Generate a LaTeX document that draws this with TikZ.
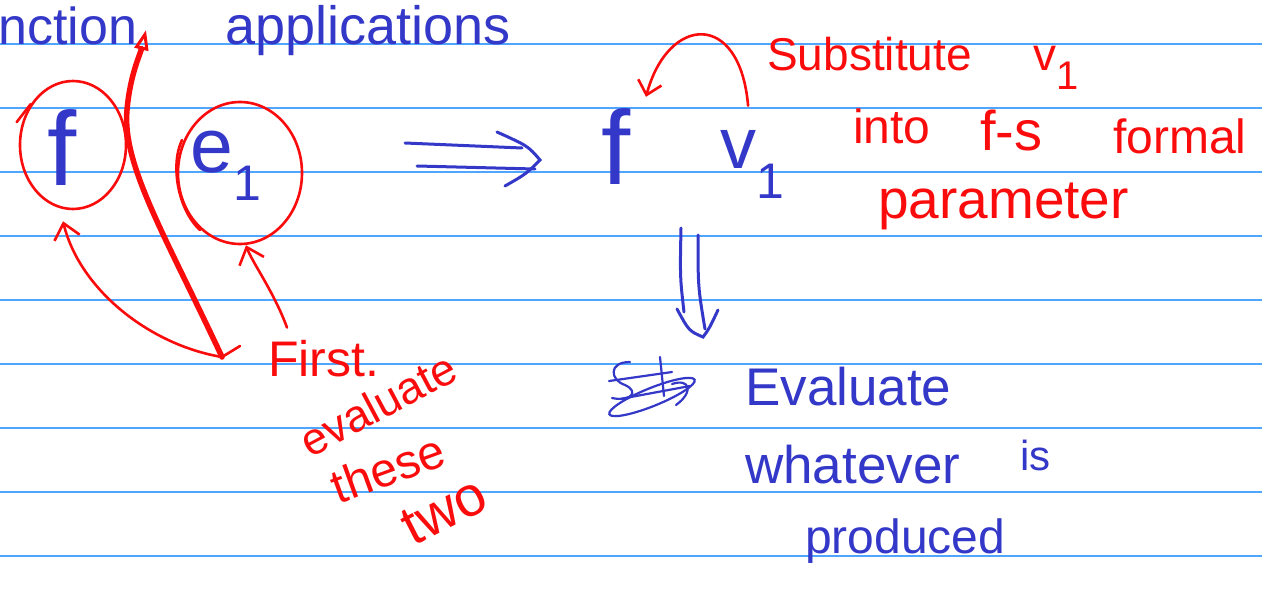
\documentclass[tikz,border=0pt]{standalone}
\usepackage{fontspec}
\setmainfont{Liberation Sans}
\usepackage{tikz}
\usetikzlibrary{positioning, arrows.meta, shapes.geometric}

\definecolor{penblue}{RGB}{52,56,200}
\definecolor{penred}{RGB}{250,12,12}
\definecolor{ruleblue}{RGB}{80,165,255}

\begin{document}
\begin{tikzpicture}[
    x=1pt, y=-1pt,
    node distance=10pt,
    rule/.style={ruleblue, line width=1.5pt},
    bluetext/.style={text=penblue, inner sep=0pt, font=\fontsize{52}{52}\selectfont},
    redtext/.style={text=penred, inner sep=0pt, font=\fontsize{48}{48}\selectfont},
    ring/.style={ellipse, draw=penred, line width=2.6pt, inner sep=0pt},
    redpen/.style={penred, line width=2.6pt, line cap=round},
    thickpen/.style={penred, line width=5.5pt, line cap=round},
    bluepen/.style={penblue, line width=3pt, line cap=round},
    barbtip/.style={-{Straight Barb[length=15pt, width=26pt, line width=2.6pt]}}
]

    % Paper
    \useasboundingbox (0,0) rectangle (1262,589);
    \fill[white] (0,0) rectangle (1262,589);
    \foreach \ly in {44,108,...,556}
        \draw[rule] (0,\ly) -- (1262,\ly);

    % Heading
    \node[bluetext, anchor=base west] (headleft) at (-2,44) {nction};
    \node[bluetext, anchor=base west, font=\fontsize{54}{54}\selectfont] (headright) at (225,44) {applications};

    % Left: the application f e1
    \node[bluetext, font=\fontsize{105}{105}\selectfont] (fleft) at (62,148) {f};
    \node[bluetext, anchor=base west, font=\fontsize{77}{77}\selectfont] (eone) at (190,172) {e\raisebox{-28pt}{\fontsize{50}{50}\selectfont 1}};
    \node[ring, minimum width=106pt, minimum height=128pt] (fring) at (73,145) {};
    \node[ring, minimum width=124pt, minimum height=142pt] (ering) at (240,173) {};
    \draw[redpen] (fring.136) -- ++(-14pt,-18pt);
    \draw[redpen] (182,140) .. controls (170,165) and (178,210) .. (200,230);

    % Red divider and order of evaluation
    \coordinate (pivot) at (222,357);
    \coordinate (topmark) at (146,30);
    \draw[thickpen, -{Triangle[open, length=20pt, width=14pt, line width=3pt]}]
        (pivot) .. controls (165,235) and (122,165) .. (127,110)
        .. controls (130,75) and (140,55) .. (topmark);
    \draw[redpen, barbtip] ([shift={(18pt,11pt)}]pivot) -- (pivot)
        .. controls (150,345) and (80,290) .. ([shift={(-10pt,-11pt)}]fring.south);

    \node[redtext, anchor=base west, font=\fontsize{50}{50}\selectfont] (first) at (268,376) {First.};
    \node[redtext, rotate=28, font=\fontsize{45}{45}\selectfont] (evalred) at (378,404) {evaluate};
    \node[redtext, rotate=20] (these) at (388,468) {these};
    \node[redtext, rotate=27, font=\fontsize{56}{56}\selectfont] (two) at (444,511) {two};
    \draw[redpen, barbtip] ([shift={(19pt,12pt)}]first.north west)
        .. controls (274,292) and (252,262) .. ([xshift=6pt]ering.south);

    % Double arrow to the right
    \coordinate (thenfrom) at (405,156);
    \coordinate (thento) at (540,160);
    \draw[bluepen] ([yshift=13pt]thenfrom) -- ([shift={(-18pt,12pt)}]thento);
    \draw[bluepen] ([shift={(12pt,-10pt)}]thenfrom) -- ([shift={(-5pt,-9pt)}]thento);
    \draw[bluepen] ([shift={(-43pt,28pt)}]thento) .. controls ([shift={(-12pt,14pt)}]thento) .. (thento)
        .. controls ([shift={(-14pt,-14pt)}]thento) .. ([shift={(-35pt,-26pt)}]thento);

    % Right: f v1
    \node[bluetext, font=\fontsize{105}{105}\selectfont] (fright) at (616,147) {f};
    \node[bluetext, anchor=base west, font=\fontsize{72}{72}\selectfont] (vone) at (720,168) {v\raisebox{-30pt}{\fontsize{50}{50}\selectfont 1}};
    \draw[redpen, -{Straight Barb[length=13pt, width=24pt, line width=2.6pt]}]
        ([shift={(-4pt,24pt)}]vone.north) .. controls (740,10) and (668,15) .. ([shift={(30pt,12pt)}]fright.north);

    % Red note
    \node[redtext, anchor=base west, font=\fontsize{46}{46}\selectfont] (subst) at (767,70)
        {Substitute\hspace{62pt}v\raisebox{-20pt}{\fontsize{40}{40}\selectfont 1}};
    \node[redtext, anchor=base west] (into) at (853,143) {into};
    \node[redtext, anchor=base west, font=\fontsize{56}{56}\selectfont] (fs) at (980,150) {f-s};
    \node[redtext, anchor=base west] (formal) at (1113,153) {formal};
    \node[redtext, anchor=base west, font=\fontsize{55}{55}\selectfont] (param) at (878,218) {parameter};

    % Down arrow
    \coordinate (downtip) at (703,337);
    \draw[bluepen] ([shift={(-22pt,109pt)}]downtip) .. controls ([shift={(-23pt,60pt)}]downtip) .. ([shift={(-19pt,25pt)}]downtip);
    \draw[bluepen] ([shift={(-5pt,102pt)}]downtip) .. controls ([shift={(-5pt,50pt)}]downtip) .. ([shift={(2pt,8pt)}]downtip);
    \draw[bluepen] ([shift={(-26pt,28pt)}]downtip) .. controls ([shift={(-14pt,6pt)}]downtip) .. (downtip)
        .. controls ([shift={(6pt,8pt)}]downtip) .. ([shift={(15pt,27pt)}]downtip);

    % Crossed out word
    \draw[bluepen, line width=2.2pt] (630,362) .. controls (608,362) and (610,380) .. (625,385)
        .. controls (640,392) and (630,402) .. (612,398);
    \draw[bluepen, line width=2.2pt] (609,381) -- (672,372);
    \draw[bluepen, line width=2.2pt] (620,399) -- (690,386);
    \draw[bluepen, line width=2.2pt] (660,357) -- (664,396);
    \draw[bluepen, line width=2.2pt, rotate around={22:(652,397)}] (652,397) ellipse (46pt and 9pt);
    \draw[bluepen, line width=2.2pt] (672,384) .. controls (690,378) and (694,392) .. (676,405);

    % Blue note
    \node[bluetext, anchor=base west, font=\fontsize{53}{53}\selectfont] (evalblue) at (745,405) {Evaluate};
    \node[bluetext, anchor=base west, font=\fontsize{53}{53}\selectfont] (whatever) at (745,483) {whatever};
    \node[bluetext, anchor=base west, font=\fontsize{42}{42}\selectfont] (is) at (1020,470) {is};
    \node[bluetext, anchor=base west, font=\fontsize{48}{48}\selectfont] (produced) at (805,553) {produced};

\end{tikzpicture}
\end{document}
